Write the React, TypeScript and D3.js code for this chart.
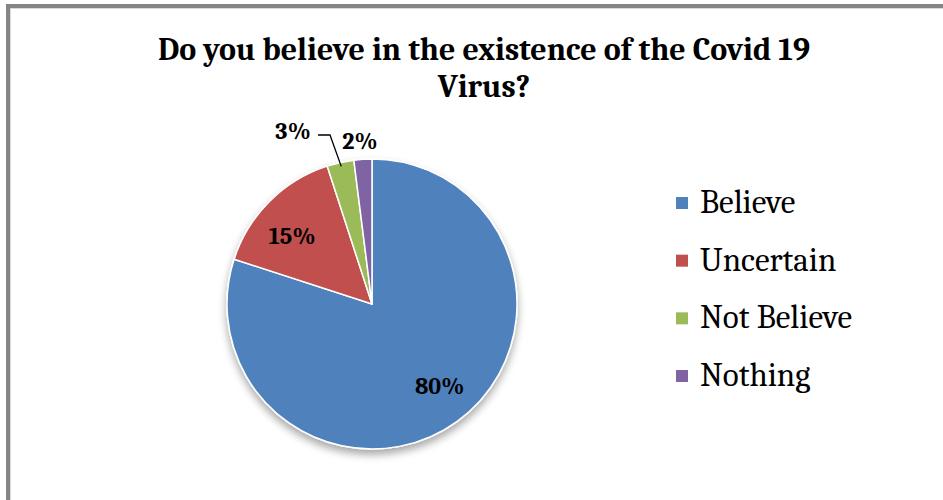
import React from "react";
import * as d3 from "d3";

const categories = ["Believe", "Uncertain", "Not Believe", "Nothing"];
const values = [80, 15, 3, 2];
const labels = ["80%", "15%", "3%", "2%"];
const colors = ["#4F81BD", "#C0504D", "#9BBB59", "#8064A2"];
const titleLines = ["Do you believe in the existence of the Covid 19", "Virus?"];

export default function App() {
  const W = 943, H = 500;
  const cx = 372, cy = 304, r = 145;
  const pie = d3.pie<number>().sort(null).value((d) => d)(values);
  const arc = d3.arc<d3.PieArcDatum<number>>().innerRadius(0).outerRadius(r);
  const labelArc = d3.arc<d3.PieArcDatum<number>>().innerRadius(r * 0.7).outerRadius(r * 0.7);
  const legendY = d3.scalePoint<string>().domain(categories).range([203, 376]);
  const serif = "Cambria, 'Liberation Serif', 'DejaVu Serif', serif";
  const offsets = [[8, 0], [-8, 4]];

  const mid3 = (pie[2].startAngle + pie[2].endAngle) / 2;
  const p3 = { x: cx + Math.sin(mid3) * (r - 4), y: cy - Math.cos(mid3) * (r - 4) };

  return (
    <svg width={W} height={H} style={{ position: "absolute", left: 0, top: 0, background: "#fff" }}>
      <defs>
        <filter id="shadow" x="-20%" y="-20%" width="140%" height="150%">
          <feGaussianBlur in="SourceAlpha" stdDeviation="4" />
          <feOffset dx="0" dy="5" result="b" />
          <feComponentTransfer>
            <feFuncA type="linear" slope="0.35" />
          </feComponentTransfer>
          <feMerge>
            <feMergeNode />
            <feMergeNode in="SourceGraphic" />
          </feMerge>
        </filter>
      </defs>
      <rect x={0} y={0} width={W} height={H} fill="#fff" />
      <rect x={6} y={4} width={W - 6} height={4} fill="#858585" />
      <rect x={6} y={4} width={4} height={H - 4} fill="#858585" />
      <line x1={10} y1={8.5} x2={W} y2={8.5} stroke="#d9d9d9" strokeWidth={1} />
      <line x1={10.5} y1={8} x2={10.5} y2={H} stroke="#d9d9d9" strokeWidth={1} />

      {titleLines.map((t, i) => (
        <text key={i} x={484} y={60 + i * 37} textAnchor="middle" fontFamily={serif}
          fontWeight="bold" fontSize={32} fill="#000">{t}</text>
      ))}

      <g transform={`translate(${cx},${cy})`} filter="url(#shadow)">
        {pie.map((p, i) => (
          <path key={i} d={arc(p) || ""} fill={colors[i]} stroke="#fff" strokeWidth={1.5} strokeLinejoin="round" />
        ))}
      </g>

      {pie.slice(0, 2).map((p, i) => {
        const [x, y] = labelArc.centroid(p);
        return (
          <text key={i} x={cx + x + offsets[i][0]} y={cy + y + offsets[i][1] + 8}
            textAnchor="middle" fontFamily={serif} fontWeight="bold" fontSize={24} fill="#000">
            {labels[i]}
          </text>
        );
      })}
      <polyline points={`${318},${135} ${330},${135} ${p3.x},${p3.y}`} fill="none" stroke="#000" strokeWidth={1.3} />
      <text x={293} y={139} textAnchor="middle" fontFamily={serif} fontWeight="bold" fontSize={24} fill="#000">{labels[2]}</text>
      <text x={360} y={149} textAnchor="middle" fontFamily={serif} fontWeight="bold" fontSize={24} fill="#000">{labels[3]}</text>

      {categories.map((c, i) => (
        <g key={c} transform={`translate(0,${legendY(c)})`}>
          <rect x={676} y={-6} width={12} height={12} fill={colors[i]} />
          <text x={700} y={10} fontFamily={serif} fontSize={33} fill="#000">{c}</text>
        </g>
      ))}
    </svg>
  );
}
